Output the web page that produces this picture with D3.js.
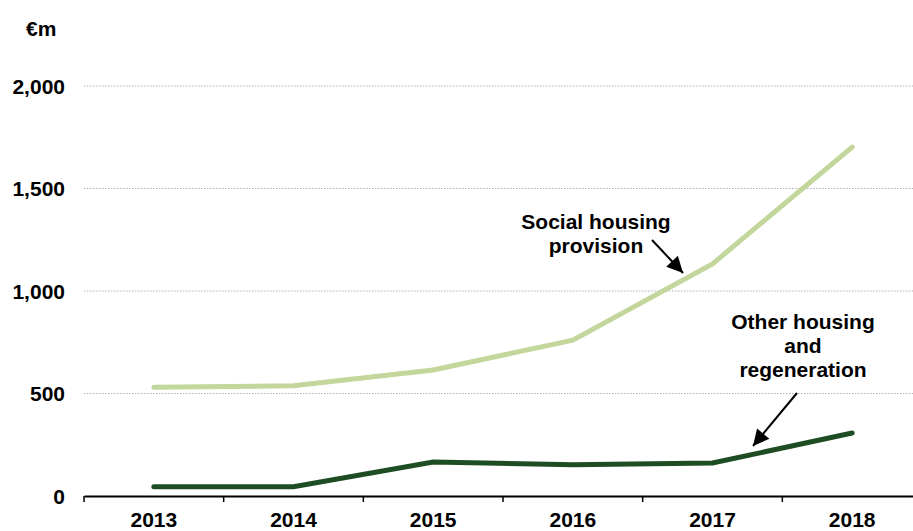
<!DOCTYPE html>
<html><head><meta charset="utf-8">
<script src="https://cdn.jsdelivr.net/npm/d3@7"></script>
<style>body{margin:0;background:#fff}svg{display:block}text{font-family:"Liberation Sans",Arial,sans-serif;font-weight:bold;fill:#000}</style>
</head><body><svg id="c" width="913" height="531"></svg>
<script>
const years = ["2013","2014","2015","2016","2017","2018"];
const socialHousing = [530, 538, 615, 760, 1132, 1702];
const otherHousing = [45, 45, 166, 152, 161, 307];
const yTicks = [0, 500, 1000, 1500, 2000];

const svg = d3.select("#c");
const x = d3.scaleBand().domain(years).range([84, 922]);
const y = d3.scaleLinear().domain([0, 2000]).range([496, 86]);
const FS = 21;

// gridlines
svg.append("g").selectAll("line").data(yTicks.filter(d => d > 0)).join("line")
  .attr("x1", 84).attr("x2", 913)
  .attr("y1", d => y(d)).attr("y2", d => y(d))
  .attr("stroke", "#b0b0b0").attr("stroke-width", 1).attr("stroke-dasharray", "1.5,1.5");

// y labels
svg.append("g").selectAll("text").data(yTicks).join("text")
  .attr("x", 65).attr("y", d => y(d)).attr("dy", "0.36em")
  .attr("text-anchor", "end").attr("font-size", FS)
  .text(d => d3.format(",")(d));
svg.append("text").attr("x", 26).attr("y", 36).attr("font-size", FS).text("€m");

// x axis
const xAxis = d3.axisBottom(x).tickSize(0).tickPadding(16);
const gx = svg.append("g").attr("transform", "translate(0,496)").call(xAxis);
gx.select(".domain").attr("stroke", "#000").attr("stroke-width", 2);
gx.selectAll("text").attr("font-size", FS).attr("font-family", '"Liberation Sans",Arial,sans-serif').attr("font-weight", "bold").attr("fill", "#000");
svg.append("g").selectAll("line").data(years).join("line")
  .attr("x1", d => x(d)).attr("x2", d => x(d))
  .attr("y1", 496).attr("y2", 502)
  .attr("stroke", "#000").attr("stroke-width", 1.5);

const line = d3.line().x((d, i) => x(years[i]) + x.bandwidth() / 2).y(d => y(d));
svg.append("path").datum(socialHousing).attr("d", line)
  .attr("fill", "none").attr("stroke", "#c3d69b").attr("stroke-width", 5).attr("stroke-linecap", "round");
svg.append("path").datum(otherHousing).attr("d", line)
  .attr("fill", "none").attr("stroke", "#1e4d24").attr("stroke-width", 5).attr("stroke-linecap", "round");

// arrows
const defs = svg.append("defs");
defs.append("marker").attr("id", "ah").attr("viewBox", "0 0 10 10").attr("refX", 10).attr("refY", 5)
  .attr("markerWidth", 9).attr("markerHeight", 8).attr("markerUnits", "strokeWidth").attr("orient", "auto")
  .append("path").attr("d", "M0,0L10,5L0,10z").attr("fill", "#000");

function label(lines, cx, y0, lh) {
  const t = svg.append("text").attr("text-anchor", "middle").attr("font-size", FS);
  lines.forEach((l, i) => t.append("tspan").attr("x", cx).attr("y", y0 + i * lh).text(l));
}
label(["Social housing", "provision"], 596, 229, 24);
label(["Other housing", "and", "regeneration"], 803, 329, 24);

svg.append("line").attr("x1", 652).attr("y1", 240).attr("x2", 683).attr("y2", 273)
  .attr("stroke", "#000").attr("stroke-width", 2).attr("marker-end", "url(#ah)");
svg.append("line").attr("x1", 797).attr("y1", 393).attr("x2", 753).attr("y2", 446)
  .attr("stroke", "#000").attr("stroke-width", 2).attr("marker-end", "url(#ah)");
</script></body></html>
